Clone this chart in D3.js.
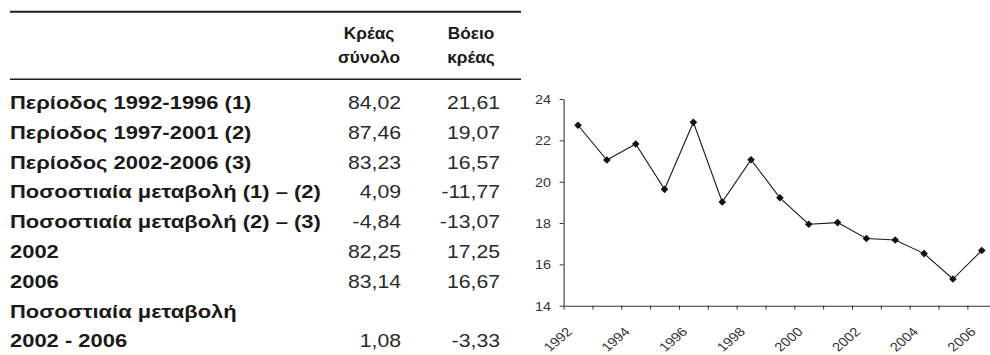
<!DOCTYPE html>
<html><head><meta charset="utf-8">
<script src="https://cdn.jsdelivr.net/npm/d3@7"></script>
<style>
html,body{margin:0;padding:0;background:#fff;}
svg{display:block;}
text{font-family:"Liberation Sans",Arial,Helvetica,sans-serif;}
</style></head>
<body>
<svg id="c" width="990" height="355"></svg>
<script>
// ---- data ----
const years = [1992,1993,1994,1995,1996,1997,1998,1999,2000,2001,2002,2003,2004,2005,2006];
const beefValues = [22.73,21.05,21.82,19.63,22.87,19.02,21.06,19.22,17.94,18.02,17.25,17.18,16.52,15.29,16.67];
const yTicks = [14,16,18,20,22,24];
const xLabelYears = [1992,1994,1996,1998,2000,2002,2004,2006];

const headerCol1 = ["Κρέας","σύνολο"];
const headerCol2 = ["Βόειο","κρέας"];
const rowLabels = ["Περίοδος 1992-1996 (1)","Περίοδος 1997-2001 (2)","Περίοδος 2002-2006 (3)",
  "Ποσοστιαία μεταβολή (1) – (2)","Ποσοστιαία μεταβολή (2) – (3)","2002","2006",
  "Ποσοστιαία μεταβολή","2002 - 2006"];
const meatTotal = ["84,02","87,46","83,23","4,09","-4,84","82,25","83,14","","1,08"];
const beefMeat  = ["21,61","19,07","16,57","-11,77","-13,07","17,25","16,67","","-3,33"];

// ---- drawing ----
const svg = d3.select("#c");

function sText(g, x, y, str, sx, anchor, opts){
  const t = g.append("text")
    .attr("transform", `translate(${x},${y}) scale(${sx},1)`)
    .attr("text-anchor", anchor)
    .text(str);
  Object.entries(opts||{}).forEach(([k,v])=>t.style(k,v));
  return t;
}

// table
const tbl = svg.append("g");
tbl.append("line").attr("x1",10).attr("x2",521).attr("y1",11.7).attr("y2",11.7)
  .attr("stroke","#1e1e1e").attr("stroke-width",2);
tbl.append("line").attr("x1",10).attr("x2",521).attr("y1",79.2).attr("y2",79.2)
  .attr("stroke","#1e1e1e").attr("stroke-width",1.6);

const hdrStyle = {"font-size":"16px","font-weight":"bold","fill":"#1a1a1a"};
headerCol1.forEach((s,i)=>sText(tbl,369,39+i*24,s,1.08,"middle",hdrStyle));
headerCol2.forEach((s,i)=>sText(tbl,471,39+i*24,s,1.08,"middle",hdrStyle));

const rowY0 = 109, rowStep = 29.8;
rowLabels.forEach((s,i)=>sText(tbl,10,rowY0+i*rowStep,s,1.22,"start",
  {"font-size":"18px","font-weight":"bold","fill":"#1a1a1a"}));
meatTotal.forEach((s,i)=>sText(tbl,401,rowY0+i*rowStep,s,1.18,"end",
  {"font-size":"18px","fill":"#2a2a2a"}));
beefMeat.forEach((s,i)=>sText(tbl,500,rowY0+i*rowStep,s,1.18,"end",
  {"font-size":"18px","fill":"#2a2a2a"}));

// chart
const x0 = 563.6, bw = 28.84;
const xBand = d3.scaleBand().domain(years).range([x0, x0 + years.length*bw]).padding(0);
const xEdge = d3.scaleLinear().domain([0, years.length]).range([x0, x0 + years.length*bw]);
const y = d3.scaleLinear().domain([14,24]).range([305.7, 99]);
const axisColor = "#333";

const yAx = svg.append("g").attr("transform",`translate(${x0},0)`)
  .call(d3.axisLeft(y).tickValues(yTicks).tickSize(4).tickSizeOuter(0).tickPadding(8));
yAx.select(".domain").attr("stroke",axisColor).attr("stroke-width",1.1);
yAx.selectAll(".tick line").attr("stroke",axisColor);
yAx.selectAll(".tick text").each(function(){
  const t = d3.select(this);
  t.attr("x",null).attr("dy",null)
   .attr("transform","translate(-12.5,4.5) scale(1.15,1)")
   .style("font-size","12.5px").style("fill","#333").style("font-family",'"Liberation Sans",Arial,sans-serif');
});

const yBase = y(14);
const xAx = svg.append("g").attr("transform",`translate(0,${yBase})`)
  .call(d3.axisBottom(xEdge).tickValues(d3.range(0, years.length)).tickSize(4).tickSizeOuter(0).tickFormat(""));
xAx.select(".domain").attr("stroke",axisColor).attr("stroke-width",1.1);
xAx.selectAll(".tick line").attr("stroke",axisColor);

const xLab = svg.append("g").attr("transform",`translate(0,${yBase})`)
  .call(d3.axisBottom(xBand).tickValues(xLabelYears).tickSize(0));
xLab.select(".domain").remove();
xLab.selectAll(".tick text").each(function(){
  d3.select(this).attr("y",null).attr("dy",null)
    .attr("text-anchor","end")
    .attr("transform","translate(-5,27) scale(1.18,1) rotate(-45)")
    .style("font-size","12.5px").style("fill","#333").style("font-family",'"Liberation Sans",Arial,sans-serif');
});

const cx = d => xBand(d.year) + xBand.bandwidth()/2;
const pts = years.map((yr,i)=>({year:yr, value:beefValues[i]}));
svg.append("path").datum(pts)
  .attr("d", d3.line().x(cx).y(d=>y(d.value)))
  .attr("fill","none").attr("stroke","#1a1a1a").attr("stroke-width",1.1);

const diamond = r => `M0,${-r}L${r},0L0,${r}L${-r},0Z`;
svg.append("g").selectAll("path").data(pts).join("path")
  .attr("transform", d=>`translate(${cx(d)},${y(d.value)})`)
  .attr("d", diamond(3.8))
  .attr("fill","#111");
</script>
</body></html>
